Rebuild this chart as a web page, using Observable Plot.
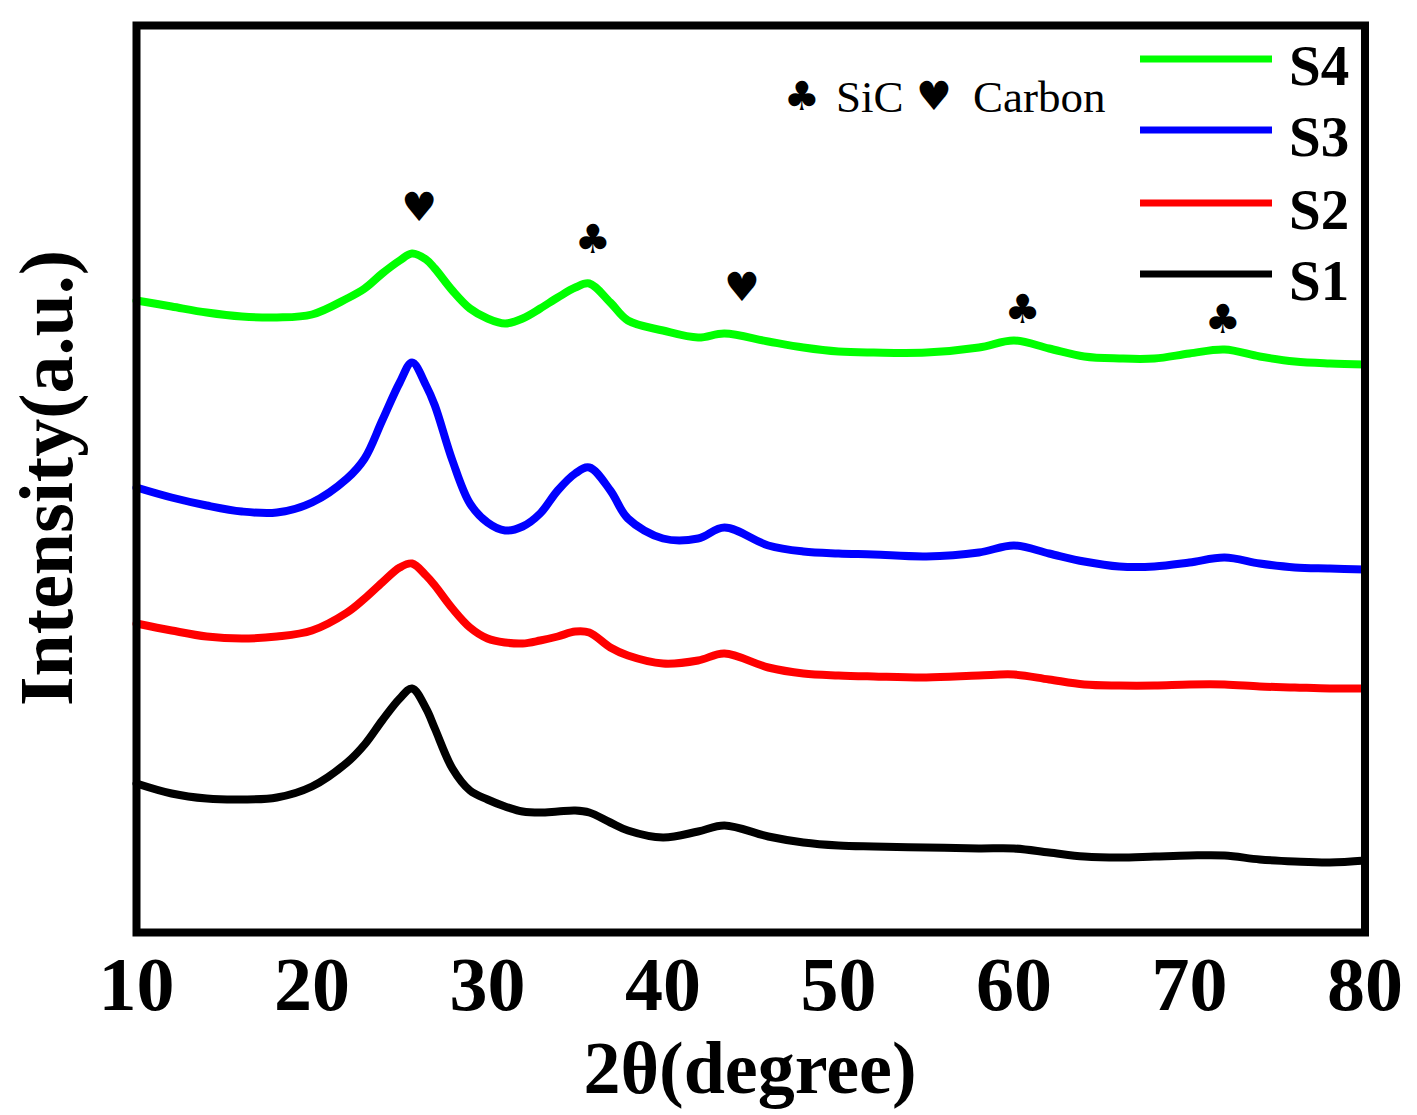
<!DOCTYPE html>
<html>
<head>
<meta charset="utf-8">
<script src="https://cdn.jsdelivr.net/npm/d3@7"></script>
<script src="https://cdn.jsdelivr.net/npm/@observablehq/plot@0.6"></script>
<style>
  html, body { margin: 0; padding: 0; background: #fff; }
  #chart { width: 1417px; height: 1115px; }
</style>
</head>
<body>
<div id="chart"></div>
<script>
// ---- data ----
const twoTheta = [10,12,14,16,18,20,22,23,24,25,25.7,26.5,27,28,29,30,31,32,33,34,35,35.8,37,38,40,42,43.5,46,48,50,52,55,58,60,62,64,66,68,70,72,74,76,78,80];
const S4 = [632,626,620,616,615,618,634,644,659,672,679,673,664,642,624,614,609,614,624,635,645,649,630,612,602,595,599,591,585,581,580,580,585,592,584,576,574,574,579,583,576,571,569,568];
const S3 = [445,435,427,421,420,430,454,474,512,550,570,547,527,472,429,410,402,406,419,442,459,465,442,414,394,394,405,387,381,379,378,376,380,387,379,371,366,366,370,375,369,365,364,363];
const S2 = [309,302,296,294,296,302,320,334,350,365,369,357,347,324,305,294,290,289,292,296,301,300,285,277,269,272,279,265,259,257,256,255,257,258,253,248,247,247,248,248,246,245,244,244];
const S1 = [149,139,134,133,135,146,170,188,212,234,244,224,204,164,142,133,126,121,120,121,122,120,110,102,95,101,107,96,90,87,86,85,84,84,80,76,75,76,77,77,73,71,70,72];

const seriesNames = ["S4", "S3", "S2", "S1"];
const seriesColors = ["#00ff00", "#0000ff", "#ff0000", "#000000"];
const seriesValues = [S4, S3, S2, S1];

const xTicks = [10, 20, 30, 40, 50, 60, 70, 80];
const xTitle = "2θ(degree)";
const yTitle = "Intensity(a.u.)";

// peak markers
const markerX = [26.1, 36.0, 44.5, 60.5, 71.9];
const markerY = [724, 692, 644, 622, 612];
const markerSymbol = ["♥", "♣", "♥", "♣", "♣"];

const phaseLegend = [["♣", "SiC"], ["♥", "Carbon"]];

// ---- build table ----
const rows = [];
seriesNames.forEach((name, i) => {
  twoTheta.forEach((x, j) => rows.push({series: name, x, y: seriesValues[i][j]}));
});
const markers = markerX.map((x, i) => ({x, y: markerY[i], s: markerSymbol[i]}));

const serif = "'Liberation Serif', 'Times New Roman', serif";
const symFont = "'DejaVu Sans', sans-serif";

const chart = Plot.plot({
  width: 1417,
  height: 1115,
  marginLeft: 136,
  marginRight: 52.5,
  marginTop: 25,
  marginBottom: 183,
  style: {fontFamily: serif, background: "#fff", overflow: "visible"},
  x: {domain: [10, 80]},
  y: {domain: [0, 907], axis: null},
  color: {domain: seriesNames, range: seriesColors},
  marks: [
    Plot.line(rows, {x: "x", y: "y", z: "series", stroke: "series", strokeWidth: 8, curve: "catmull-rom"}),
    Plot.text(markers, {x: "x", y: "y", text: "s", fontSize: 40, fontFamily: symFont, fill: "#000"}),
    Plot.frame({stroke: "#000", strokeWidth: 8}),
    Plot.axisX({ticks: xTicks, tickSize: 0, tickPadding: 24, fontSize: 76, fontWeight: "bold", label: null, tickFormat: d => String(d), fill: "#000"})
  ]
});
document.getElementById("chart").appendChild(chart);

// ---- titles & legend ----
const svg = d3.select(chart);
svg.append("text")
  .attr("x", 750).attr("y", 1093)
  .attr("text-anchor", "middle")
  .attr("font-family", serif).attr("font-weight", "bold").attr("font-size", 74)
  .attr("fill", "#000")
  .text(xTitle);
svg.append("text")
  .attr("transform", "translate(72,478) rotate(-90)")
  .attr("text-anchor", "middle")
  .attr("font-family", serif).attr("font-weight", "bold").attr("font-size", 76)
  .attr("fill", "#000")
  .text(yTitle);

// series legend
const legY = [59, 130, 203, 274];
const lg = svg.append("g");
seriesNames.forEach((name, i) => {
  lg.append("line").attr("x1", 1140).attr("x2", 1272).attr("y1", legY[i]).attr("y2", legY[i])
    .attr("stroke", seriesColors[i]).attr("stroke-width", 7);
  lg.append("text").attr("x", 1289).attr("y", legY[i] + 26)
    .attr("text-anchor", "start")
    .attr("font-family", serif).attr("font-weight", "bold").attr("font-size", 57)
    .attr("fill", "#000").text(name);
});

// phase legend
const pg = svg.append("g");
const phaseSymX = [802, 934];
const phaseTextX = [836, 973];
phaseLegend.forEach(([sym, label], i) => {
  pg.append("text").attr("x", phaseSymX[i]).attr("y", 110).attr("text-anchor", "middle")
    .attr("font-family", symFont).attr("font-size", 40).attr("fill", "#000").text(sym);
  pg.append("text").attr("x", phaseTextX[i]).attr("y", 112)
    .attr("text-anchor", "start")
    .attr("font-family", serif).attr("font-size", 45).attr("fill", "#000").text(label);
});
</script>
</body>
</html>
